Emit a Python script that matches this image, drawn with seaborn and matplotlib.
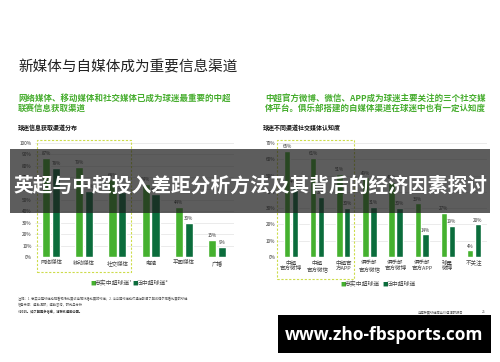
import matplotlib
matplotlib.use("Agg")
import matplotlib.pyplot as plt
import matplotlib.patches as mpatches
import seaborn as sns
import pandas as pd

sns.set_theme(style="white")
plt.rcParams['font.family'] = ['Noto Sans CJK SC', 'DejaVu Sans']

# ---------------- data ----------------
left_cats = ["网络媒体", "移动媒体", "社交媒体", "电视", "平面媒体", "广播"]
left_loyal = [87, 79, 68, 64, 44, 15]
left_casual = [78, 58, 57, 55, 30, 9]

right_cats = ["中超\n官方微博", "中超\n官方微信", "中超官\n方APP", "俱乐部\n官方微信",
              "俱乐部\n官方微博", "俱乐部\n官方APP", "球星\n微博", "不关注"]
right_loyal = [65, 61, 51, 49, 46, 33, 27, 4]
right_casual = [44, 37, 30, 31, 30, 14, 19, 20]

groups = ["忠实中超球迷", "泛中超球迷"]
left_yticks = [0, 10, 20, 30, 40, 50, 60, 70, 80, 90, 100]
right_yticks = [0, 10, 20, 30, 40, 50, 60, 70]

LIGHT = "#45b12f"
DARK = "#0b6d3c"
GREEN_TXT = "#46ad2e"

W, H = 500, 362
fig = plt.figure(figsize=(5, 3.62), dpi=100)
fig.patch.set_facecolor("white")


def box(x0, y0, x1, y1):
    return [x0 / W, 1 - y1 / H, (x1 - x0) / W, (y1 - y0) / H]


def fx(x):
    return x / W


def fy(y):
    return 1 - y / H


def make_chart(rect, cats, loyal, casual, yticks, ymax):
    ax = fig.add_axes(rect)
    df = pd.DataFrame({
        "cat": cats * 2,
        "val": loyal + casual,
        "grp": [groups[0]] * len(cats) + [groups[1]] * len(cats),
    })
    sns.barplot(data=df, x="cat", y="val", hue="grp", hue_order=groups,
                palette=[LIGHT, DARK], width=0.6, gap=0.18, legend=False,
                ax=ax, saturation=1)
    for cont in ax.containers:
        ax.bar_label(cont, labels=[f"{int(b.get_height())}%" for b in cont],
                     fontsize=3.3, color="#333333", padding=1.2)
    ax.set_ylim(0, ymax)
    ax.set_xlim(-0.5, len(cats) - 0.5)
    ax.set_yticks(yticks)
    ax.set_yticklabels([f"{t}%" for t in yticks], fontsize=3.4, color="#333333")
    ax.tick_params(axis="both", length=0, pad=2)
    ax.tick_params(axis="x", labelsize=4.0, labelcolor="#444444", pad=2.5)
    for lab in ax.get_xticklabels():
        lab.set_linespacing(1.15)
    ax.set_xlabel("")
    ax.set_ylabel("")
    ax.yaxis.grid(True, color="#e3e3e3", linewidth=0.5)
    ax.set_axisbelow(True)
    for s in ax.spines.values():
        s.set_visible(False)
    ax.set_facecolor("none")
    return ax


make_chart(box(34.5, 143, 233.5, 257), left_cats, left_loyal, left_casual,
           left_yticks, 100)
make_chart(box(278, 143, 487, 257), right_cats, right_loyal, right_casual,
           right_yticks, 70)

# dashed highlight boxes
for (x0, y0, x1, y1) in [(37, 140, 131, 272), (277, 140, 354, 279)]:
    fig.add_artist(mpatches.Rectangle((fx(x0), fy(y1)), (x1 - x0) / W, (y1 - y0) / H,
                                      transform=fig.transFigure, fill=False,
                                      edgecolor="#cddc4b", linestyle=(0, (2, 1.5)),
                                      linewidth=0.8))

# titles
fig.text(fx(18), fy(67), "新媒体与自媒体成为重要信息渠道", fontsize=10.5,
         color="#222222", va="center", ha="left", fontweight="medium")
fig.text(fx(18), fy(98), "网络媒体、移动媒体和社交媒体已成为球迷最重要的中超",
         fontsize=6.1, color=GREEN_TXT, fontweight="bold", va="center")
fig.text(fx(18), fy(108), "联赛信息获取渠道", fontsize=6.1, color=GREEN_TXT,
         fontweight="bold", va="center")
fig.text(fx(265), fy(98), "中超官方微博、微信、APP成为球迷主要关注的三个社交媒",
         fontsize=6.1, color=GREEN_TXT, fontweight="bold", va="center")
fig.text(fx(265), fy(108), "体平台。俱乐部搭建的自媒体渠道在球迷中也有一定认知度",
         fontsize=6.1, color=GREEN_TXT, fontweight="bold", va="center")
fig.text(fx(18), fy(127), "球迷信息获取渠道分布", fontsize=4.3, color="#111111",
         fontweight="bold", va="center")
fig.text(fx(263), fy(127), "球迷不同渠道社交媒体认知度", fontsize=4.3, color="#111111",
         fontweight="bold", va="center")


# legends
def legend_at(x, y, sup1, sup2):
    fig.text(fx(x), fy(y), "■", fontsize=4, color=LIGHT, va="center")
    fig.text(fx(x + 5), fy(y), groups[0] + sup1, fontsize=4.2, color="#444444", va="center")
    fig.text(fx(x + 42), fy(y), "■", fontsize=4, color=DARK, va="center")
    fig.text(fx(x + 47), fy(y), groups[1] + sup2, fontsize=4.2, color="#444444", va="center")


legend_at(90, 283, "¹", "²")
legend_at(340, 284, "", "")

# footnotes
fig.text(fx(18), fy(299),
         "注释：1. 忠实中超球迷指观看现场比赛或电视转播比赛的球迷；2. 泛中超球迷指仅通过新闻了解或偶尔观看比赛的球迷",
         fontsize=2.3, color="#555555", va="center")
fig.text(fx(18), fy(304), "信息来源：德勤调研；德勤咨询，研究与分析", fontsize=2.3,
         color="#555555", va="center")
fig.text(fx(18), fy(312), "©2015。如了解更多信息，请联系德勤中国。", fontsize=2.3,
         color="#333333", fontweight="bold", va="center")
fig.text(fx(440), fy(312), "中超联赛球迷商业价值调研报告", fontsize=2.3,
         color="#555555", va="center", ha="center")
fig.text(fx(484), fy(312), "25", fontsize=2.3, color="#555555", va="center", ha="center")

# black watermark bar
fig.add_artist(mpatches.Rectangle((fx(278), fy(353)), (491 - 278) / W, (353 - 315) / H,
                                  transform=fig.transFigure, facecolor="black",
                                  edgecolor="none"))
fig.text(fx(384), fy(335), "www.zho-fbsports.com", fontsize=12.5, color="white",
         fontweight="bold", va="center", ha="center", family=["Open Sans", "DejaVu Sans"])

# overlay banner
fig.add_artist(mpatches.Rectangle((fx(10), fy(213)), (490 - 10) / W, (213 - 149) / H,
                                  transform=fig.transFigure, facecolor="#1e1e1e",
                                  alpha=0.72, edgecolor="none"))
fig.text(0.5, fy(186), "英超与中超投入差距分析方法及其背后的经济因素探讨",
         fontsize=14.2, color="white", fontweight="bold", va="center", ha="center")

fig.savefig("out.png", dpi=100, facecolor="white")
